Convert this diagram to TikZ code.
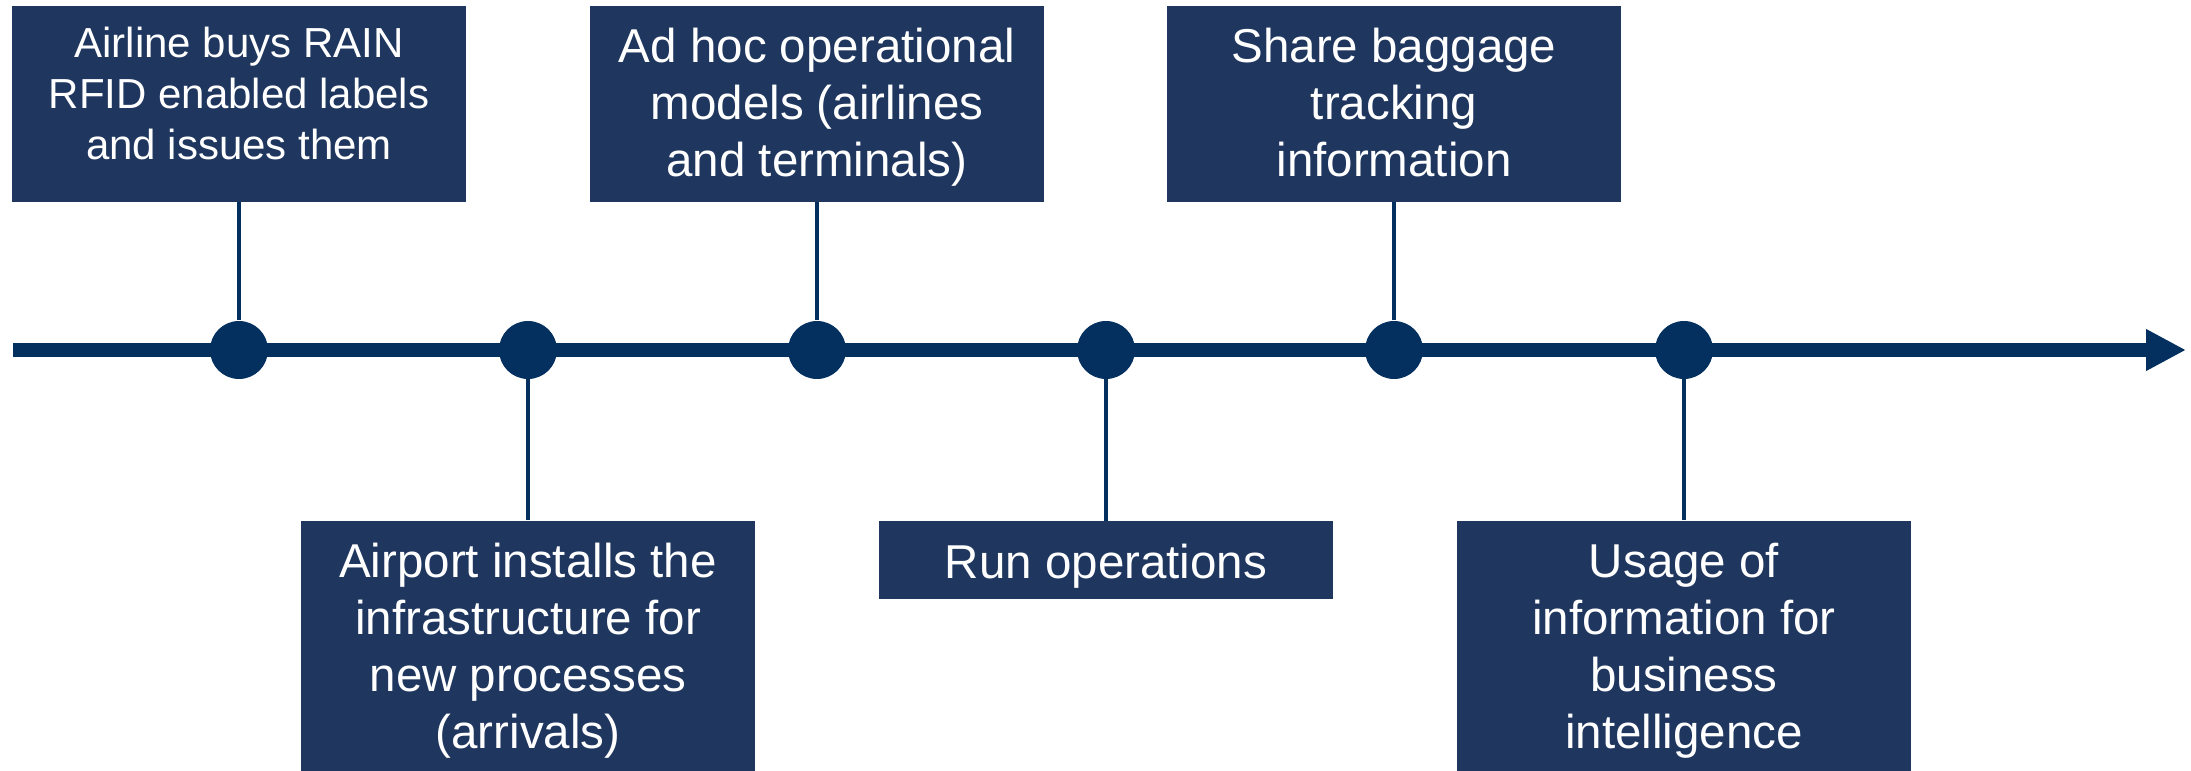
\documentclass[tikz,border=0pt]{standalone}
\usepackage{fontspec}
\setmainfont{Liberation Sans}
\usetikzlibrary{arrows.meta}
\definecolor{boxblue}{HTML}{1F365F}
\definecolor{lineblue}{HTML}{03305F}
\tikzset{
  evbox/.style={draw=none, fill=boxblue, rectangle, inner sep=0pt, minimum width=181.6pt},
  topbox/.style={evbox, minimum height=78.4pt},
  lowbox/.style={evbox, minimum height=100pt},
  evtext/.style={anchor=base, inner sep=0pt, text=white},
  dot/.style={circle, fill=lineblue, draw=none, inner sep=0pt, minimum size=23.2pt},
  conn/.style={draw=lineblue, line width=1.6pt},
  axis/.style={draw=lineblue, line width=5.6pt, -{Triangle[length=16pt,width=15.6pt]}}
}
% #1 font size, #2 line spacing, #3 text
\newcommand{\evlines}[3]{\parbox[t]{181.6pt}{\centering\fontsize{#1}{#2}\selectfont #3}}
\begin{document}
\begin{tikzpicture}[x=0.4pt,y=-0.4pt]
\useasboundingbox (0,0) rectangle (2191,771);
% boxes
\node[topbox] (b1) at (239,104) {};
\node[lowbox] (b2) at (528,646) {};
\node[topbox] (b3) at (817,104) {};
\node[evbox, minimum height=31.2pt] (b4) at (1106,560) {};
\node[topbox] (b5) at (1394,104) {};
\node[lowbox] (b6) at (1684,646) {};
% texts
\node[evtext] (t1) at (239,58) {\evlines{16.8pt}{20.4pt}{Airline buys RAIN\\RFID enabled labels\\and issues them}};
\node[evtext] (t2) at (528,577) {\evlines{19pt}{22.8pt}{Airport installs the\\infrastructure for\\new processes\\(arrivals)}};
\node[evtext] (t3) at (817,63) {\evlines{19pt}{22.8pt}{Ad hoc operational\\models (airlines\\and terminals)}};
\node[evtext] (t4) at (1106,578) {\evlines{19pt}{22.8pt}{Run operations}};
\node[evtext] (t5) at (1394,63) {\evlines{19pt}{22.8pt}{Share baggage\\tracking\\information}};
\node[evtext] (t6) at (1684,577) {\evlines{19pt}{22.8pt}{Usage of\\information for\\business\\intelligence}};
% axis
\coordinate (start) at (13,350);
\coordinate (tip) at (2186,350);
\draw[axis] (start) -- (tip);
% dots
\node[dot] (c1) at (239,350) {};
\node[dot] (c2) at (528,350) {};
\node[dot] (c3) at (817,350) {};
\node[dot] (c4) at (1106,350) {};
\node[dot] (c5) at (1394,350) {};
\node[dot] (c6) at (1684,350) {};
% connectors
\draw[conn] (b1) -- (c1);
\draw[conn] (b2) -- (c2);
\draw[conn] (b3) -- (c3);
\draw[conn] (b4) -- (c4);
\draw[conn] (b5) -- (c5);
\draw[conn] (b6) -- (c6);
\end{tikzpicture}
\end{document}
